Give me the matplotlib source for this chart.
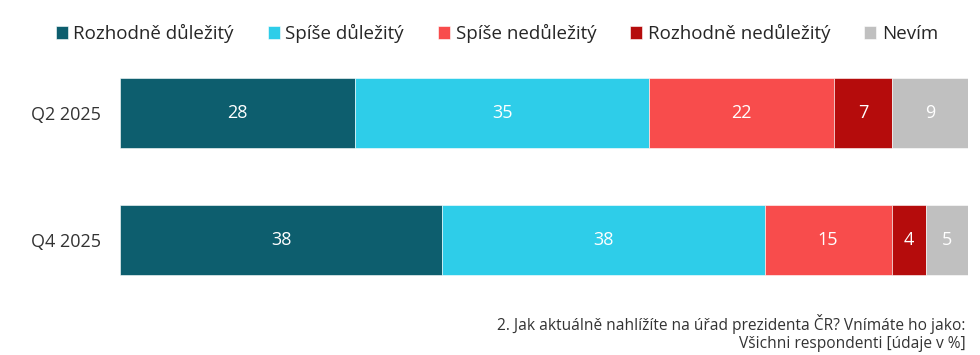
import matplotlib.pyplot as plt
import numpy as np

plt.rcParams['font.family'] = ['Open Sans', 'DejaVu Sans']

periods = ['Q2 2025', 'Q4 2025']
categories = ['Rozhodně důležitý', 'Spíše důležitý', 'Spíše nedůležitý',
              'Rozhodně nedůležitý', 'Nevím']
values = {
    'Q2 2025': [28, 35, 22, 7, 9],
    'Q4 2025': [38, 38, 15, 4, 5],
}
colors = ['#0d5e6e', '#2ecde9', '#f84c4c', '#b50c0c', '#c0c0c0']
note = '2. Jak aktuálně nahlížíte na úřad prezidenta ČR? Vnímáte ho jako:\nVšichni respondenti [údaje v %]'

fig = plt.figure(figsize=(9.8, 3.55), dpi=100)
ax = fig.add_axes([0.1224, 0.169, 0.8654, 0.662])

data = np.array([values[p] for p in periods], dtype=float)
shares = data / data.sum(axis=1, keepdims=True) * 100
y = np.arange(len(periods))
left = np.zeros(len(periods))
for j, cat in enumerate(categories):
    bars = ax.barh(y, shares[:, j], left=left, height=0.551, color=colors[j],
                   label=cat, edgecolor='white', linewidth=0.4)
    for i, b in enumerate(bars):
        ax.text(left[i] + shares[i, j] / 2, y[i], f'{int(data[i, j])}',
                ha='center', va='center', color='white', fontsize=13)
    left += shares[:, j]

ax.set_xlim(0, 100)
ax.set_ylim(1.433, -0.417)
ax.set_yticks(y)
ax.set_yticklabels(periods, fontsize=13, color='#333333')
ax.tick_params(axis='y', length=0, pad=14)
ax.set_xticks([])
for s in ax.spines.values():
    s.set_visible(False)

fig.legend(loc='center', bbox_to_anchor=(0.507, 0.905), ncol=5, frameon=False,
           fontsize=13.5, handlelength=0.65, handleheight=0.65, handletextpad=0.3,
           columnspacing=1.8, labelcolor='#262626')

fig.text(0.985, 0.008, note, ha='right', va='bottom', fontsize=11.2,
         color='#333333', linespacing=1.2)

fig.savefig('out.png', dpi=100)
